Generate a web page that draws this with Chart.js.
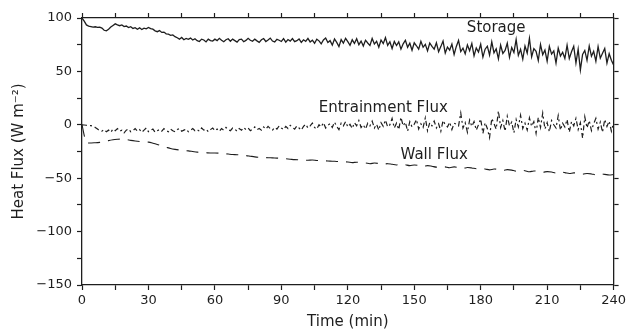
<!DOCTYPE html>
<html lang="en">
<head>
  <meta charset="UTF-8">
  <title>Heat Flux</title>
  <script src="https://cdn.jsdelivr.net/npm/chart.js"></script>
  <style>
    body { margin: 0; background: #fff; }
    #wrap { width: 629px; height: 335px; }
  </style>
</head>
<body>
  <div id="wrap"><canvas id="fluxChart"></canvas></div>

  <script>
    // Storage, one value per minute (0..240), W m-2
    const storage = [
      100, 97, 93.5, 92.5, 92, 91.5, 91.8, 91.2, 91.5, 90.5,
      88.5, 88, 89.5, 91.5, 93, 94.5, 93.5, 92.8, 93.5, 92,
      92.5, 91, 91.8, 90.2, 91, 89.5, 90.8, 89.2, 90.5, 89.8,
      91.2, 90, 89.5, 88, 87.2, 88.2, 86.5, 86.8, 85.2, 84.8,
      83.8, 84.2, 82.5, 81.5, 80.2, 81.8, 79.6, 80.8, 80, 81.2,
      79.4, 80.6, 78.8, 78, 80.2, 79.4, 77.6, 80.2, 78.8, 78.4,
      80.2, 78.8, 81, 79.2, 77.8, 79.6, 80.6, 78.2, 80.2, 78.8,
      77.4, 79.8, 80.2, 77.8, 79, 81, 79.2, 78.2, 80.2, 78.6,
      77.2, 79.6, 80.8, 78, 79.4, 81.2, 78.4, 77.6, 80, 79.2,
      78, 80.6, 77.4, 79.8, 78.4, 80.8, 77.8, 78.8, 80.4, 77.2,
      79.6, 78.2, 81, 77.6, 79.2, 76.4, 80.2, 78.6, 75.8, 79.4,
      81.2, 77, 78.8, 74.6, 80.4, 77.2, 73.2, 79.8, 76.4, 81,
      77.8, 74.4, 79.6, 76.2, 80.6, 75, 78.4, 73.8, 79.2, 76.6,
      74.2, 80.8, 75.6, 78.2, 72.6, 79.4, 76, 81.6, 74.4, 77.8,
      71.4, 78, 74.2, 77.6, 70.8, 75.8, 79.2, 72.6, 76.4, 69.8,
      76.8, 74, 70.8, 78.2, 72.6, 75.4, 69.2, 76.6, 73.4, 70.8,
      76.8, 68.4, 73.2, 78.4, 67.2, 72.8, 70, 75.6, 65.8, 73.4,
      79, 68.6, 71.8, 66.4, 74.8, 69.4, 76.2, 64.6, 72, 68.2,
      75.4, 63.4, 70.8, 73.6, 65.2, 77.6, 67.4, 71.2, 61.8, 74.6,
      66.8, 69.6, 76.4, 63.2, 72.4, 67.6, 79.8, 65, 70.6, 61.4,
      73.8, 67.2, 81, 63.6, 71.4, 68.8, 60.2, 75.2, 65.6, 70,
      59.6, 73.4, 66.2, 69.2, 57.8, 71.8, 64.4, 68, 62.2, 74.6,
      62, 68.4, 73.6, 57.8, 70.8, 51.4, 65.8, 69.6, 60.4, 73.8,
      64.2, 68.8, 59.6, 73.2, 62.4, 67, 71.4, 57.8, 66.6, 60.4,
      56
    ];

    // Entrainment flux, one value per minute (0..240)
    const entrainment = [
      0, -0.2, -0.4, -0.6, -0.8, -1.2, -2.5, -4, -5.5, -6,
      -4.5, -6.5, -5, -7, -4, -5.5, -3.5, -6, -5, -7.5,
      -5, -4, -6.5, -5.5, -3.5, -6, -4.5, -7, -5, -3,
      -6.5, -5, -4, -7, -5.5, -4.5, -6, -3.5, -5.5, -6.5,
      -4, -5.5, -6.5, -4.5, -3.5, -6, -5, -4, -6.5, -5,
      -3.5, -5.5, -4.5, -6, -3, -5, -4, -6.5, -4.5, -3,
      -5.5, -4, -6, -3.5, -5, -2.5, -4.5, -5.5, -3, -4,
      -6, -3.5, -5, -2.5, -4.5, -3, -5.5, -4, -2, -4.5,
      -3.5, -5, -2, -4, -1.5, -3.5, -5, -2.5, -4, -1,
      -3, -4.5, -1.5, -3.5, -0.5, -2.5, -4, -1, -3, -5,
      -1.5, 0.5, -3, -1, 1.5, -2.5, -4, 0, -2, 2,
      -3, -0.5, 1, -2.5, 2.5, -1.5, -4.5, 1.5, -1, 3,
      -2, 0.5, -3.5, 2, -1, 4, -2.5, 0, -4, 1.5,
      -1, 3.5, -3, 0.5, -5, 2, -1.5, 4.5, -2, 0,
      6, -3, 1.5, -4.5, 7, -1, 2.5, -6, 3, -2,
      0.5, 5, -4, 1, -2.5, 6.5, -5.5, 2, -1, 3.5,
      -3, 1, -6, 4, 0, -2, 2.5, -4.5, 1.5, 0.5,
      -1, 11, -3, 2, -7, 4.5, -1.5, 3, -5, 0,
      5.5, -8, 2, -3.5, -12, 6, 1, -4, 13, -2.5,
      4, -6, 8, -1, 2.5, -7.5, 5, -2, 9, -3.5,
      1.5, -5, 6.5, -1.5, 3, -8, 7, -2.5, 11, -4,
      2, -6.5, 4, 0, -3, 8.5, -5, 1.5, -2, 5,
      -7, 3, -1, 6, -4.5, 2, -12.5, 7.5, -3, 4,
      -5.5, 1, 6, -4, 2.5, -7, 5, -1.5, 3.5, -6,
      2
    ];

    // Wall flux, one value every 2 minutes (0..240)
    const wallFlux = [
      0,
      -16.5, -17, -16.8, -16.5, -16, -14.8, -14, -13.6, -13.4, -13.8,
      -14.6, -15.2, -15.6, -15.8, -16.2, -17.2, -18.4, -19.8, -21, -22.2,
      -23, -23.6, -24, -24.4, -25, -25.6, -26, -26.2, -26.4, -26.4,
      -26.6, -27, -27.4, -27.8, -28, -28.4, -28.8, -29.4, -30, -30.4,
      -30.6, -30.8, -31, -31.2, -31.4, -31.8, -32.2, -32.6, -32.8, -33,
      -33.2, -33, -33.4, -33.6, -33.8, -34, -34.2, -34.4, -34.6, -34.8,
      -35.4, -35, -35.6, -35.8, -36.4, -35.8, -36.2, -36.8, -36.4, -37,
      -37.6, -36.8, -37.4, -38.2, -37.6, -38, -39, -38.2, -38.8, -39.6,
      -38.8, -39.4, -40.2, -39.4, -40, -40.8, -40, -40.4, -41.2, -41,
      -41.4, -42.2, -41.4, -41.8, -42.6, -42, -42.4, -43.4, -42.6, -43,
      -44, -43.2, -43.6, -44.4, -43.8, -44.2, -45.2, -44.4, -44.8, -45.6,
      -45, -45.4, -46.2, -45.6, -46, -46.8, -46, -46.4, -47, -46.6
    ];

    const storageTimes = storage.map((_, i) => i);
    const entrainmentTimes = entrainment.map((_, i) => i);
    const wallTimes = wallFlux.map((_, i) => i * 2);

    const xTicks = [0, 30, 60, 90, 120, 150, 180, 210, 240];
    const yTicks = [-150, -100, -50, 0, 50, 100];

    const toPoints = (times, values) => times.map((t, i) => ({ x: t, y: values[i] }));

    const ink = '#1e1e1e';
    const FONT = "'DejaVu Sans', sans-serif";

    // series names written next to the curves
    const curveLabels = [
      { text: 'Storage', x: 187, y: 90.5 },
      { text: 'Entrainment Flux', x: 136, y: 15.3 },
      { text: 'Wall Flux', x: 159, y: -28 }
    ];

    const curveLabelPlugin = {
      id: 'curveLabels',
      afterDatasetsDraw(chart) {
        const { ctx, scales } = chart;
        ctx.save();
        ctx.fillStyle = ink;
        ctx.font = '15px ' + FONT;
        ctx.textAlign = 'center';
        ctx.textBaseline = 'middle';
        curveLabels.forEach(l => {
          ctx.fillText(l.text, scales.x.getPixelForValue(l.x), scales.y.getPixelForValue(l.y));
        });
        ctx.restore();
      }
    };

    const axisLine = { display: true, color: ink, width: 1.3 };
    const gridTicks = { drawOnChartArea: false, drawTicks: true, tickLength: 5, tickColor: ink, tickWidth: 1.2 };

    const ctx = document.getElementById('fluxChart').getContext('2d');
    new Chart(ctx, {
      type: 'line',
      data: {
        datasets: [
          {
            label: 'Storage',
            data: toPoints(storageTimes, storage),
            borderColor: ink,
            borderWidth: 1.3,
            pointRadius: 0,
            tension: 0
          },
          {
            label: 'Entrainment Flux',
            data: toPoints(entrainmentTimes, entrainment),
            borderColor: ink,
            borderWidth: 1.2,
            borderDash: [5, 3, 2, 3],
            pointRadius: 0,
            tension: 0
          },
          {
            label: 'Wall Flux',
            data: toPoints(wallTimes, wallFlux),
            borderColor: ink,
            borderWidth: 1.1,
            borderDash: [12, 8],
            pointRadius: 0,
            tension: 0.3
          }
        ]
      },
      options: {
        responsive: true,
        maintainAspectRatio: false,
        animation: false,
        layout: { padding: { top: 18, right: 13, left: 0, bottom: 0 } },
        plugins: { legend: { display: false }, tooltip: { enabled: false } },
        scales: {
          x: {
            type: 'linear',
            position: 'bottom',
            min: 0,
            max: 240,
            afterFit: s => { s.height = 50; },
            ticks: {
              stepSize: 15,
              padding: 3,
              color: ink,
              font: { family: FONT, size: 13 },
              maxRotation: 0,
              autoSkip: false,
              callback: v => xTicks.includes(v) ? String(v) : ''
            },
            grid: gridTicks,
            border: axisLine,
            title: {
              display: true,
              text: 'Time (min)',
              color: ink,
              font: { family: FONT, size: 15 },
              padding: { top: 0, bottom: 4 }
            }
          },
          x2: {
            type: 'linear',
            axis: 'x',
            position: 'top',
            min: 0,
            max: 240,
            afterFit: s => { s.height = 0; },
            ticks: { stepSize: 15, display: false },
            grid: gridTicks,
            border: axisLine
          },
          y: {
            type: 'linear',
            position: 'left',
            min: -150,
            max: 100,
            afterFit: s => { s.width = 82; },
            ticks: {
              stepSize: 25,
              padding: 5,
              color: ink,
              font: { family: FONT, size: 13 },
              autoSkip: false,
              callback: v => yTicks.includes(v) ? (v < 0 ? '\u2212' + Math.abs(v) : String(v)) : ''
            },
            grid: gridTicks,
            border: axisLine,
            title: {
              display: true,
              text: 'Heat Flux (W m\u207B\u00B2)',
              color: ink,
              font: { family: FONT, size: 15 },
              padding: { top: 10, bottom: 0 }
            }
          },
          y2: {
            type: 'linear',
            axis: 'y',
            position: 'right',
            min: -150,
            max: 100,
            afterFit: s => { s.width = 0; },
            ticks: { stepSize: 25, display: false },
            grid: gridTicks,
            border: axisLine
          }
        }
      },
      plugins: [curveLabelPlugin]
    });
  </script>
</body>
</html>
